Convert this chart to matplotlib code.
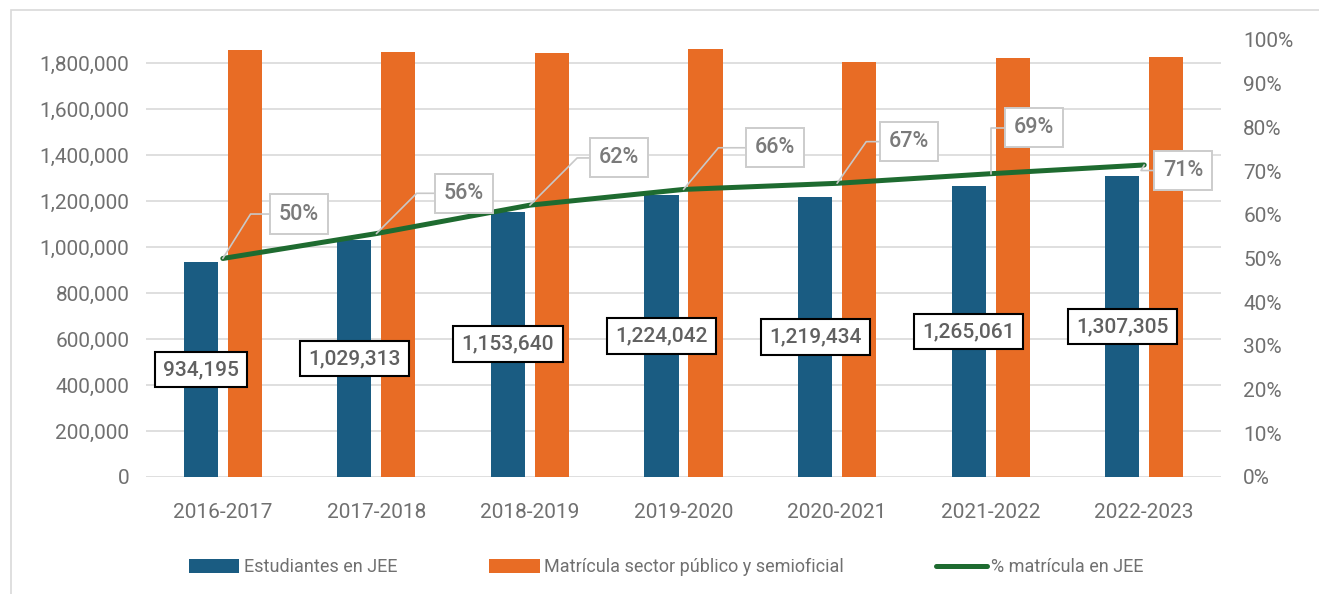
import matplotlib
matplotlib.use("Agg")
import matplotlib.pyplot as plt
import numpy as np
from matplotlib.patches import Rectangle
from matplotlib.ticker import FuncFormatter, PercentFormatter

plt.rcParams['font.family'] = ['Roboto', 'DejaVu Sans']

periodos = ["2016-2017", "2017-2018", "2018-2019", "2019-2020",
            "2020-2021", "2021-2022", "2022-2023"]
estudiantes_jee = [934195, 1029313, 1153640, 1224042, 1219434, 1265061, 1307305]
matricula_oficial = [1856500, 1847800, 1843500, 1860900, 1804300, 1821700, 1826000]
pct_jee = [0.500, 0.557, 0.622, 0.658, 0.672, 0.694, 0.714]

BLUE = "#1a5c82"
ORANGE = "#e86c25"
GREEN = "#1e6b30"
GRAY_TXT = "#707070"
GRID = "#d9d9d9"

fig = plt.figure(figsize=(13.19, 5.94), dpi=100)
ax = fig.add_axes([0.1107, 0.197, 0.815, 0.7357])
ax2 = ax.twinx()

x = np.arange(len(periodos))
w = 0.222
off = 0.143
b1 = ax.bar(x - off, estudiantes_jee, w, color=BLUE, label="Estudiantes en JEE", zorder=2)
b2 = ax.bar(x + off, matricula_oficial, w, color=ORANGE,
            label="Matrícula sector público y semioficial", zorder=2)

ax.set_xlim(-0.5, len(periodos) - 0.5)
ax.set_ylim(0, 1900000)
ax.set_yticks(np.arange(0, 1800001, 200000))
ax.yaxis.set_major_formatter(FuncFormatter(lambda v, p: f"{int(v):,}"))
ax.grid(axis="y", color=GRID, linewidth=1.2, zorder=0)
ax.set_axisbelow(True)
ax.set_xticks(x)
ax.set_xticklabels(periodos)
for a in (ax, ax2):
    for s in a.spines.values():
        s.set_visible(False)
ax.tick_params(axis="both", length=0, labelsize=15, labelcolor=GRAY_TXT)
ax.tick_params(axis="x", pad=19)
ax.tick_params(axis="y", pad=12)

# value labels inside the blue bars
for xi, v in zip(x, estudiantes_jee):
    ax.text(xi - off, v / 2, f"{v:,}", ha="center", va="center", fontsize=15,
            fontweight="medium", color="#606060", zorder=5,
            bbox=dict(boxstyle="square,pad=0.4", fc="white", ec="black", lw=1.5))

# percentage line on secondary axis
ax2.set_ylim(0, 1)
ax2.set_yticks(np.arange(0, 1.001, 0.1))
ax2.yaxis.set_major_formatter(PercentFormatter(1.0, decimals=0))
ax2.tick_params(axis="y", length=0, labelsize=15, labelcolor=GRAY_TXT, pad=16)
line, = ax2.plot(x, pct_jee, color=GREEN, lw=3.6, solid_capstyle="round",
                 label="% matrícula en JEE", zorder=4)

# callout offsets (points) and leader angles
offsets = [(55, 32), (63, 29), (64, 34), (66, 30), (52, 30), (31, 33), (28, -4)]
angles = [58, 45, 45, 50, 55, 90, 60]
for xi, v, (dx, dy), ang in zip(x, pct_jee, offsets, angles):
    ax2.annotate(f"{v:.0%}", xy=(xi, v), xytext=(dx, dy), textcoords="offset points",
                 ha="center", va="center", fontsize=15.5, fontweight="medium",
                 color="#7a7a7a", zorder=6,
                 bbox=dict(boxstyle="square,pad=0.42", fc="white", ec="#cccccc", lw=1.4),
                 arrowprops=dict(arrowstyle="-", color="#c8c8c8", lw=1.2,
                                 connectionstyle=f"angle,angleA=0,angleB={ang},rad=0",
                                 shrinkA=0, shrinkB=0))

fig.legend(handles=[b1, b2, line], loc="center", bbox_to_anchor=(0.505, 0.045),
           ncol=3, frameon=False, fontsize=13, labelcolor=GRAY_TXT,
           handlelength=2.8, handleheight=0.8, handletextpad=0.25, columnspacing=5.1)

fig.patches.append(Rectangle((11 / 1319, -0.1), 1.2, (594 - 10) / 594 + 0.1,
                             transform=fig.transFigure, fill=False,
                             ec=GRID, lw=1.2, zorder=0))

fig.savefig("out.png", dpi=100)
